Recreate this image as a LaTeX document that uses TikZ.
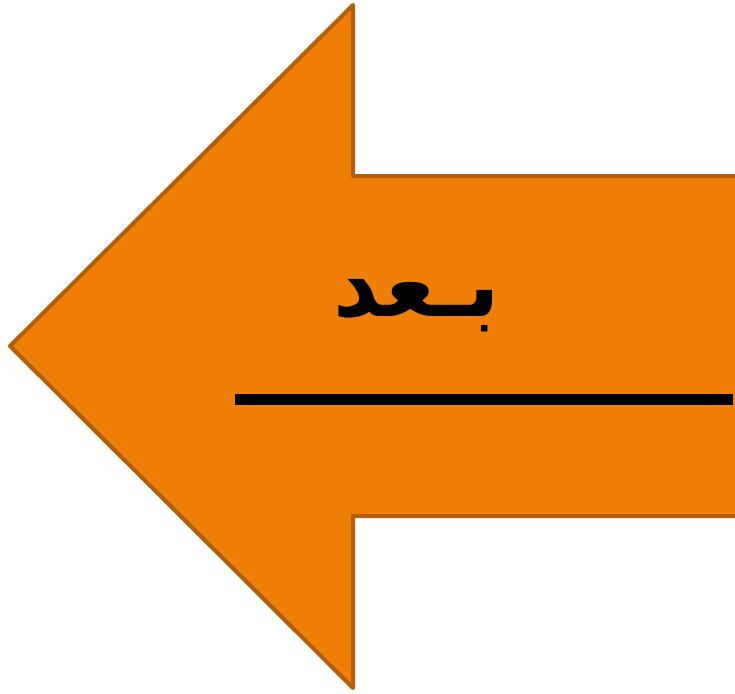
\documentclass[tikz,border=0pt]{standalone}
\usepackage{fontspec}
\newfontfamily\arabicfont[Script=Arabic]{DejaVu Sans}
\TeXXeTstate=1
\definecolor{arrowfill}{HTML}{F07F09}
\definecolor{arrowedge}{HTML}{B35E0B}

\begin{document}
\begin{tikzpicture}[x=0.75pt,y=-0.75pt,arrowshape/.style={fill=arrowfill,draw=arrowedge,line width=3pt,line join=round},rulebar/.style={line width=8.25pt},word/.style={font=\arabicfont\bfseries\fontsize{67}{75}\selectfont,inner sep=0pt}]
\useasboundingbox (0,0) rectangle (735,693);
\clip (0,0) rectangle (735,693);
\draw[arrowshape] (10,346) -- (353,5) -- (353,176) -- (770,176) -- (770,516) -- (353,516) -- (353,688) -- cycle;
\node[word,anchor=base] (after) at (417,316) {\beginR بـعد\endR};
\coordinate (ruleL) at (235,399);
\coordinate (ruleR) at (733,399);
\draw[rulebar] (ruleL) -- (ruleR);
\end{tikzpicture}
\end{document}
